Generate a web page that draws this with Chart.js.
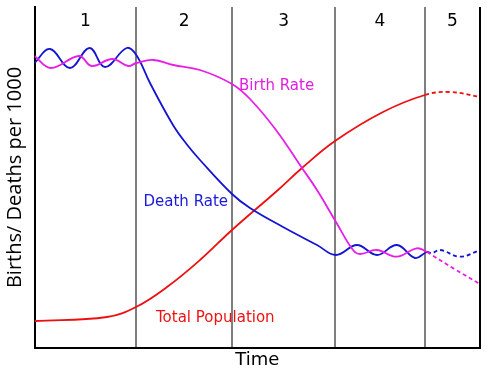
<!DOCTYPE html>
<html>
<head>
<meta charset="utf-8">
<script src="https://cdn.jsdelivr.net/npm/chart.js@4.4.1/dist/chart.umd.min.js"></script>
<style>
  html, body { margin: 0; padding: 0; background: #ffffff; }
  #wrap { width: 500px; height: 375px; }
</style>
</head>
<body>
<div id="wrap"><canvas id="c" width="500" height="375"></canvas></div>
<script>
// Time axis runs 0..445.5 (arbitrary units), rate axis 0..341 (arbitrary units)
const timeMax = 445.5;
const rateMax = 341;
const stageBounds = [0, 101.8, 197.5, 300.8, 390.2, 445.5];
const stageLabels = ['1', '2', '3', '4', '5'];
const dashFrom = 390;

const birthTime = [0, 16.5, 44.5, 57.2, 77.8, 93.8, 101.8, 118.8, 138.8, 165.5, 197.5, 215.5, 241.5, 267.5, 282.5, 301.5, 318.5, 325.5, 342.2, 362.2, 382.2, 392.5, 397.2, 420, 445.5];
const birthRate = [292, 280, 292, 282, 289, 282, 285, 288, 283, 278, 264, 249, 218, 180, 158, 126, 98, 94, 98, 91.3, 99.7, 96, 93, 79, 64];

const deathTime = [0, 15.5, 35.5, 55, 70.5, 92.2, 101.8, 115.5, 138.5, 152, 165.5, 197.5, 215.5, 248.5, 282.5, 301.5, 322.5, 342.5, 362.5, 380.5, 392.5, 397.2, 405.5, 425.5, 443.5, 445.5];
const deathRate = [285, 299, 280, 300, 281, 300, 293, 265, 223, 204, 188, 154, 140, 121, 103, 93, 103, 93, 103, 90, 96, 94.7, 98, 91.3, 97, 98];

const popTime = [0, 72.5, 101.5, 132.5, 165.5, 197.5, 243.5, 267.5, 300.5, 348.5, 390.5, 415.5, 445.5];
const popValue = [27, 31, 41, 61, 88, 118, 158, 180, 207, 236, 253, 256, 251];

const toXY = (xs, ys) => xs.map((x, i) => ({ x: x, y: ys[i] }));

const dashSeg = {
  borderDash: ctx => (ctx.p0.parsed.x >= dashFrom ? [4, 3] : undefined)
};

const textPlugin = {
  id: 'texts',
  afterDraw(chart) {
    const { ctx, scales } = chart;
    const xs = scales.x;
    ctx.save();
    ctx.textAlign = 'center';
    ctx.textBaseline = 'alphabetic';
    ctx.fillStyle = '#000000';
    ctx.font = '17px "DejaVu Sans"';
    for (let i = 0; i < stageLabels.length; i++) {
      const cx = (xs.getPixelForValue(stageBounds[i]) + xs.getPixelForValue(stageBounds[i + 1])) / 2;
      ctx.fillText(stageLabels[i], cx, 26);
    }
    ctx.textAlign = 'left';
    ctx.font = '15px "DejaVu Sans"';
    ctx.fillStyle = '#e020e0';
    ctx.fillText('Birth Rate', 239, 90);
    ctx.fillStyle = '#1a1ad8';
    ctx.fillText('Death Rate', 143.5, 205.5);
    ctx.fillStyle = '#ee1111';
    ctx.fillText('Total Population', 156, 321.5);
    ctx.restore();
  }
};

const lineStyle = {
  borderWidth: 1.8,
  pointRadius: 0,
  fill: false,
  tension: 0.4,
  segment: dashSeg
};

new Chart(document.getElementById('c'), {
  type: 'line',
  data: {
    datasets: [
      Object.assign({ label: 'Birth Rate', data: toXY(birthTime, birthRate), borderColor: '#e61ee6' }, lineStyle),
      Object.assign({ label: 'Death Rate', data: toXY(deathTime, deathRate), borderColor: '#1414d2' }, lineStyle),
      Object.assign({ label: 'Total Population', data: toXY(popTime, popValue), borderColor: '#ee1010' }, lineStyle)
    ]
  },
  options: {
    responsive: false,
    animation: false,
    events: [],
    layout: { padding: { left: 0, right: 20, top: 7, bottom: 0 } },
    plugins: { legend: { display: false }, tooltip: { enabled: false } },
    scales: {
      x: {
        type: 'linear',
        min: 0,
        max: timeMax,
        afterBuildTicks: s => { s.ticks = stageBounds.map(v => ({ value: v })); },
        ticks: { display: false },
        grid: {
          display: true,
          drawTicks: false,
          lineWidth: 2,
          color: c => {
            const v = c.tick ? c.tick.value : -1;
            if (v === 0) return 'rgba(0,0,0,0)';
            if (v === timeMax) return '#000000';
            return '#7f7f7f';
          }
        },
        border: { display: true, color: '#000000', width: 2 },
        title: {
          display: true,
          text: 'Time',
          color: '#000000',
          font: { family: 'DejaVu Sans', size: 18 },
          padding: { top: 1.7, bottom: 3.7 }
        }
      },
      y: {
        type: 'linear',
        min: 0,
        max: rateMax,
        ticks: { display: false },
        grid: { display: false, drawTicks: false },
        border: { display: true, color: '#000000', width: 2 },
        title: {
          display: true,
          text: 'Births/ Deaths per 1000',
          color: '#000000',
          font: { family: 'Open Sans', size: 20 },
          padding: { top: 3, bottom: 7.5 }
        }
      }
    }
  },
  plugins: [textPlugin]
});
</script>
</body>
</html>
